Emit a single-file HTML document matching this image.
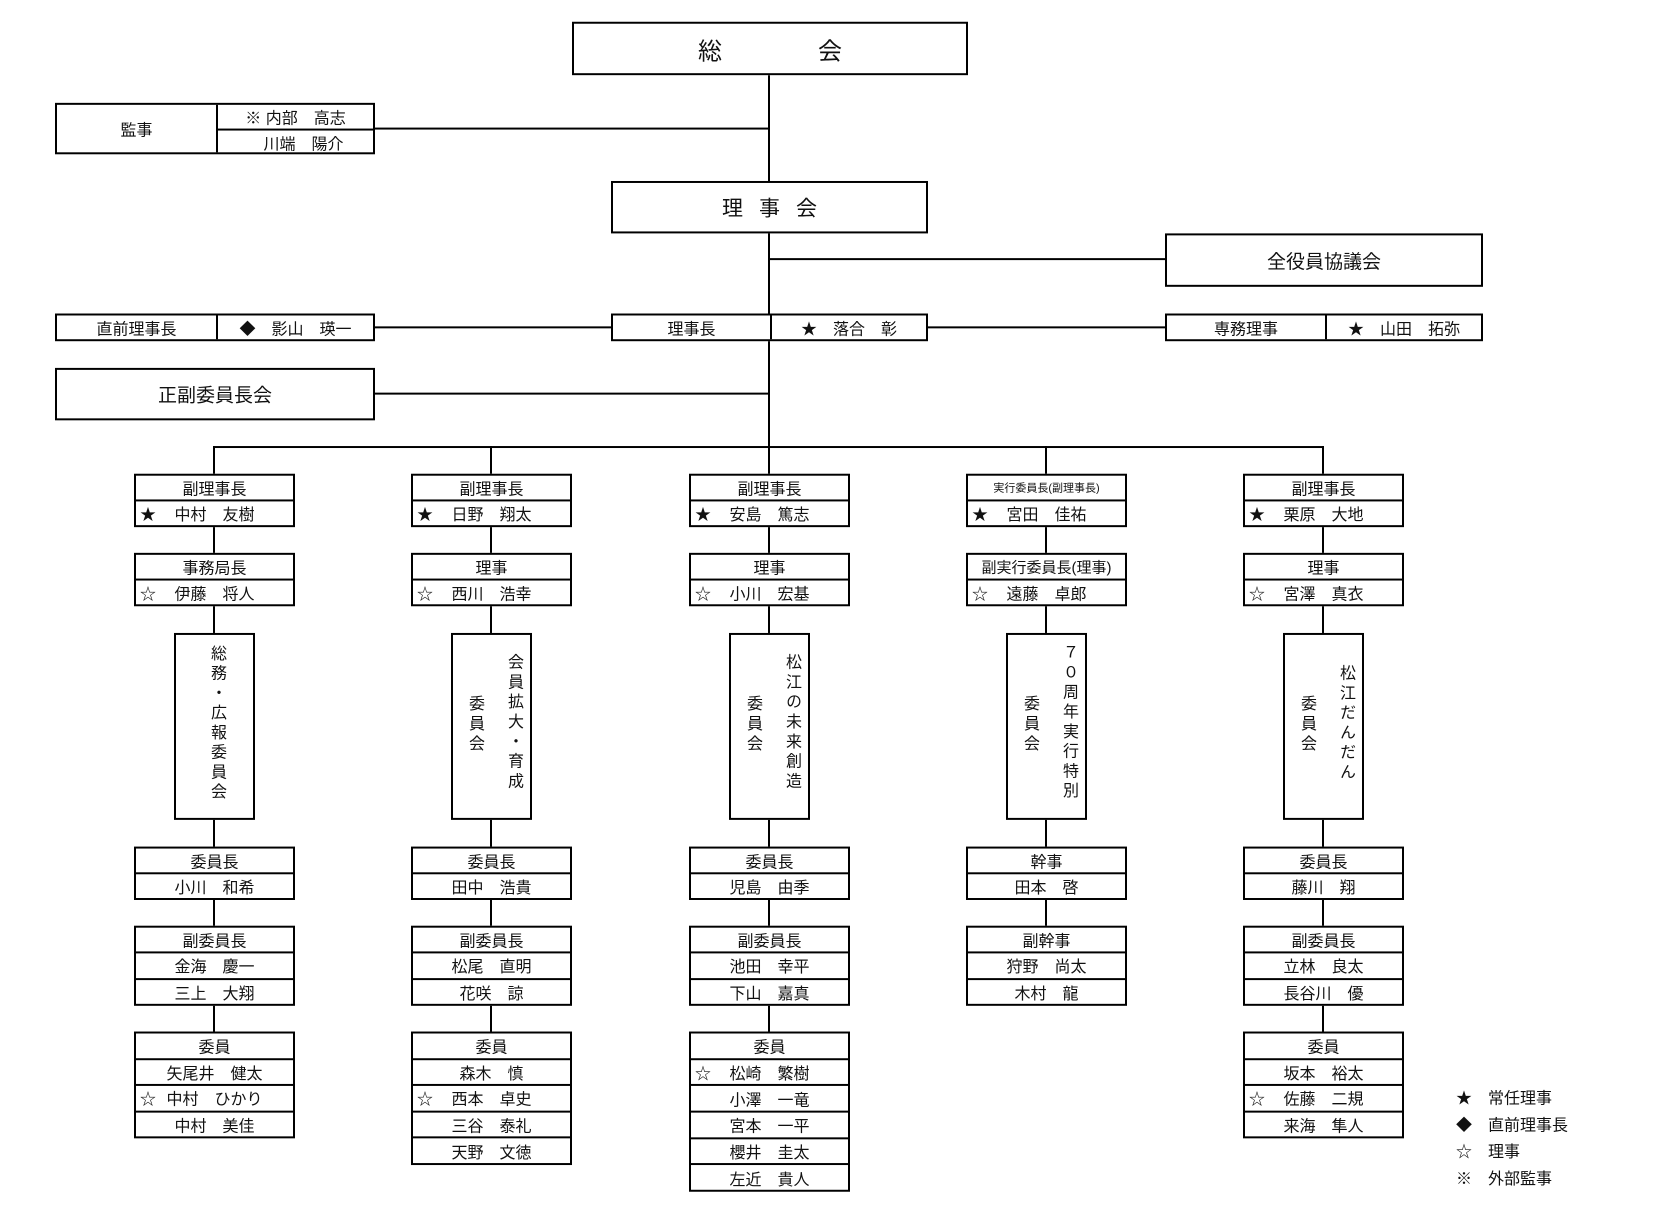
<!DOCTYPE html>
<html><head><meta charset="utf-8"><style>
body{margin:0;width:1660px;height:1220px;background:#fff;position:relative;overflow:hidden;font-family:"Liberation Sans","Noto Sans CJK JP",sans-serif;color:#111}
#w{position:absolute;left:0;top:0;width:1660px;height:1220px;transform:scaleY(0.989);transform-origin:0 0}
.l{position:absolute;background:#000}
.b{position:absolute;border:2px solid #000;box-sizing:border-box;background:#fff;display:flex;flex-direction:column}
.r{flex:1;display:flex;align-items:center;justify-content:center;font-size:16px;position:relative;border-top:2px solid #000}
.r:first-child{border-top:none}
.r .s{position:absolute;left:4px}
.h{display:flex;align-items:center;justify-content:center;position:absolute;border:2px solid #000;box-sizing:border-box;background:#fff}
.v{position:absolute;writing-mode:vertical-rl;text-orientation:upright;font-size:16px;letter-spacing:4px}
.leg{position:absolute;font-size:16px}
</style></head><body><div id="w">
<div class="l" style="left:768px;top:76px;width:2px;height:376px"></div>
<div class="l" style="left:373px;top:129px;width:396px;height:2px"></div>
<div class="l" style="left:769px;top:261px;width:397px;height:2px"></div>
<div class="l" style="left:373px;top:330px;width:240px;height:2px"></div>
<div class="l" style="left:927px;top:330px;width:240px;height:2px"></div>
<div class="l" style="left:373px;top:397px;width:396px;height:2px"></div>
<div class="l" style="left:213px;top:451px;width:1111px;height:2px"></div>
<div class="l" style="left:213px;top:451px;width:2px;height:592px"></div>
<div class="l" style="left:490px;top:451px;width:2px;height:592px"></div>
<div class="l" style="left:768px;top:451px;width:2px;height:592px"></div>
<div class="l" style="left:1045px;top:451px;width:2px;height:540px"></div>
<div class="l" style="left:1322px;top:451px;width:2px;height:592px"></div>

<div class="h" style="left:572px;top:22px;width:396px;height:54px;font-size:24px"><span style="margin-right:48px">総</span><span style="margin-left:48px">会</span></div>
<div class="b" style="left:55px;top:104px;width:320px;height:52px;flex-direction:row">
 <div style="width:159px;display:flex;align-items:center;justify-content:center;font-size:16px;border-right:2px solid #000">監事</div>
 <div style="flex:1;display:flex;flex-direction:column"><div class="r">※ 内部　高志</div><div class="r">　川端　陽介</div></div>
</div>
<div class="h" style="left:611px;top:183px;width:317px;height:53px;font-size:21px;letter-spacing:16px;padding-left:16px">理事会</div>
<div class="h" style="left:1165px;top:236px;width:318px;height:54px;font-size:19px">全役員協議会</div>
<div class="b" style="left:55px;top:317px;width:320px;height:28px;flex-direction:row"><div class="r" style="width:159px;flex:none;border-right:2px solid #000">直前理事長</div><div class="r" style="border:none">◆　影山　瑛一</div></div>
<div class="b" style="left:611px;top:317px;width:317px;height:28px;flex-direction:row"><div class="r" style="width:157px;flex:none;border-right:2px solid #000">理事長</div><div class="r" style="border:none">★　落合　彰</div></div>
<div class="b" style="left:1165px;top:317px;width:318px;height:28px;flex-direction:row"><div class="r" style="width:158px;flex:none;border-right:2px solid #000">専務理事</div><div class="r" style="border:none">★　山田　拓弥</div></div>
<div class="h" style="left:55px;top:372px;width:320px;height:53px;font-size:19px">正副委員長会</div>

<div class="b" style="left:134px;top:479px;width:161px;height:54px"><div class="r">副理事長</div><div class="r"><span class="s">★</span>中村　友樹</div></div>
<div class="b" style="left:134px;top:559px;width:161px;height:54px"><div class="r">事務局長</div><div class="r"><span class="s">☆</span>伊藤　将人</div></div>
<div class="b" style="left:174px;top:640px;width:81px;height:189px"></div>
<div class="v" style="left:204px;top:652px">総務・広報委員会</div>
<div class="b" style="left:134px;top:856px;width:161px;height:54px"><div class="r">委員長</div><div class="r">小川　和希</div></div>
<div class="b" style="left:134px;top:936px;width:161px;height:81px"><div class="r">副委員長</div><div class="r">金海　慶一</div><div class="r">三上　大翔</div></div>
<div class="b" style="left:134px;top:1043px;width:161px;height:108px"><div class="r">委員</div><div class="r">矢尾井　健太</div><div class="r"><span class="s">☆</span>中村　ひかり</div><div class="r">中村　美佳</div></div>

<div class="b" style="left:411px;top:479px;width:161px;height:54px"><div class="r">副理事長</div><div class="r"><span class="s">★</span>日野　翔太</div></div>
<div class="b" style="left:411px;top:559px;width:161px;height:54px"><div class="r">理事</div><div class="r"><span class="s">☆</span>西川　浩幸</div></div>
<div class="b" style="left:451px;top:640px;width:81px;height:189px"></div>
<div class="v" style="left:501px;top:661px">会員拡大・育成</div>
<div class="v" style="left:462px;top:703px">委員会</div>
<div class="b" style="left:411px;top:856px;width:161px;height:54px"><div class="r">委員長</div><div class="r">田中　浩貴</div></div>
<div class="b" style="left:411px;top:936px;width:161px;height:81px"><div class="r">副委員長</div><div class="r">松尾　直明</div><div class="r">花咲　諒</div></div>
<div class="b" style="left:411px;top:1043px;width:161px;height:135px"><div class="r">委員</div><div class="r">森木　慎</div><div class="r"><span class="s">☆</span>西本　卓史</div><div class="r">三谷　泰礼</div><div class="r">天野　文徳</div></div>

<div class="b" style="left:689px;top:479px;width:161px;height:54px"><div class="r">副理事長</div><div class="r"><span class="s">★</span>安島　篤志</div></div>
<div class="b" style="left:689px;top:559px;width:161px;height:54px"><div class="r">理事</div><div class="r"><span class="s">☆</span>小川　宏基</div></div>
<div class="b" style="left:729px;top:640px;width:81px;height:189px"></div>
<div class="v" style="left:779px;top:661px">松江の未来創造</div>
<div class="v" style="left:740px;top:703px">委員会</div>
<div class="b" style="left:689px;top:856px;width:161px;height:54px"><div class="r">委員長</div><div class="r">児島　由季</div></div>
<div class="b" style="left:689px;top:936px;width:161px;height:81px"><div class="r">副委員長</div><div class="r">池田　幸平</div><div class="r">下山　嘉真</div></div>
<div class="b" style="left:689px;top:1043px;width:161px;height:162px"><div class="r">委員</div><div class="r"><span class="s">☆</span>松崎　繁樹</div><div class="r">小澤　一竜</div><div class="r">宮本　一平</div><div class="r">櫻井　圭太</div><div class="r">左近　貴人</div></div>

<div class="b" style="left:966px;top:479px;width:161px;height:54px"><div class="r" style="font-size:11px">実行委員長(副理事長)</div><div class="r"><span class="s">★</span>宮田　佳祐</div></div>
<div class="b" style="left:966px;top:559px;width:161px;height:54px"><div class="r" style="font-size:15px">副実行委員長(理事)</div><div class="r"><span class="s">☆</span>遠藤　卓郎</div></div>
<div class="b" style="left:1006px;top:640px;width:81px;height:189px"></div>
<div class="v" style="left:1056px;top:651px">７０周年実行特別</div>
<div class="v" style="left:1017px;top:703px">委員会</div>
<div class="b" style="left:966px;top:856px;width:161px;height:54px"><div class="r">幹事</div><div class="r">田本　啓</div></div>
<div class="b" style="left:966px;top:936px;width:161px;height:81px"><div class="r">副幹事</div><div class="r">狩野　尚太</div><div class="r">木村　龍</div></div>

<div class="b" style="left:1243px;top:479px;width:161px;height:54px"><div class="r">副理事長</div><div class="r"><span class="s">★</span>栗原　大地</div></div>
<div class="b" style="left:1243px;top:559px;width:161px;height:54px"><div class="r">理事</div><div class="r"><span class="s">☆</span>宮澤　真衣</div></div>
<div class="b" style="left:1283px;top:640px;width:81px;height:189px"></div>
<div class="v" style="left:1333px;top:672px">松江だんだん</div>
<div class="v" style="left:1294px;top:703px">委員会</div>
<div class="b" style="left:1243px;top:856px;width:161px;height:54px"><div class="r">委員長</div><div class="r">藤川　翔</div></div>
<div class="b" style="left:1243px;top:936px;width:161px;height:81px"><div class="r">副委員長</div><div class="r">立林　良太</div><div class="r">長谷川　優</div></div>
<div class="b" style="left:1243px;top:1043px;width:161px;height:108px"><div class="r">委員</div><div class="r">坂本　裕太</div><div class="r"><span class="s">☆</span>佐藤　二規</div><div class="r">来海　隼人</div></div>

<div class="leg" style="left:1456px;top:1097px">★　常任理事</div>
<div class="leg" style="left:1456px;top:1124px">◆　直前理事長</div>
<div class="leg" style="left:1456px;top:1151px">☆　理事</div>
<div class="leg" style="left:1456px;top:1178px">※　外部監事</div>
</div></body></html>
